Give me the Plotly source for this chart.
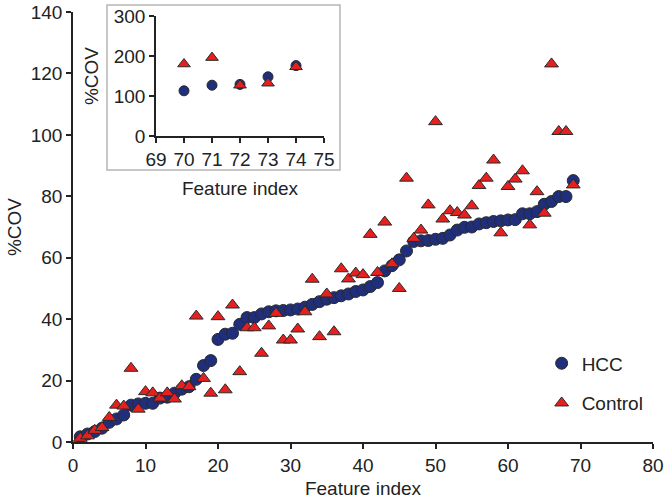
import plotly.graph_objects as go

features = list(range(1, 70))
hcc = [1.7, 2.6, 3.4, 4.5, 6.4, 7.5, 8.8, 12.0, 12.4, 12.6,
       12.6, 14.3, 14.6, 15.9, 17.2, 18.0, 20.4, 24.9, 26.5, 33.4,
       35.1, 35.4, 38.3, 40.5, 40.5, 41.7, 42.4, 42.7, 42.8, 43.0,
       43.3, 43.9, 44.8, 45.7, 46.5, 47.0, 47.6, 48.2, 49.0, 49.5,
       50.6, 51.9, 55.7, 57.4, 59.3, 62.2, 65.3, 65.5, 65.6, 66.0,
       66.3, 67.4, 69.0, 69.9, 70.0, 71.0, 71.4, 71.8, 72.0, 72.3,
       72.4, 74.3, 74.3, 75.0, 77.4, 78.3, 79.9, 79.9, 85.1]
control = [1.2, 2.0, 3.8, 4.7, 8.0, 12.0, 11.7, 24.0, 10.7, 16.4,
           16.0, 14.3, 16.0, 14.0, 18.3, 18.0, 41.0, 20.7, 15.9, 40.8,
           17.0, 44.6, 22.9, 37.2, 37.2, 28.9, 37.8, 41.9, 33.2, 33.2,
           36.8, 42.4, 53.0, 34.3, 48.2, 35.9, 56.4, 53.1, 55.0, 54.5,
           67.6, 55.2, 71.6, 58.0, 50.0, 85.9, 66.3, 69.0, 77.2, 104.3,
           72.6, 75.3, 74.7, 73.9, 76.9, 83.5, 85.9, 91.8, 68.1, 83.2,
           85.6, 88.3, 70.7, 81.5, 74.5, 123.1, 101.1, 101.1, 83.7]

inset_features = [70, 71, 72, 73, 74]
inset_hcc = [113, 127, 129, 148, 176]
inset_control = [180, 196, 127, 132, 173]

NAVY = "#1f2f7c"
RED = "#e5201f"
EDGE = "#2a2a2a"
FONT = "Liberation Sans, Arial, sans-serif"
FS = 19

fig = go.Figure()
fig.add_trace(go.Scatter(x=features, y=hcc, mode="markers", name="HCC",
                         legendgroup="a",
                         marker=dict(symbol="circle", size=12, color=NAVY,
                                     line=dict(color=EDGE, width=1)),
                         cliponaxis=False))
fig.add_trace(go.Scatter(x=features, y=control, mode="markers", name="Control",
                         legendgroup="b",
                         marker=dict(symbol="triangle-up", size=12, color=RED,
                                     line=dict(color=EDGE, width=1)),
                         cliponaxis=False))
fig.add_trace(go.Scatter(x=inset_features, y=inset_hcc, mode="markers",
                         showlegend=False, xaxis="x2", yaxis="y2",
                         marker=dict(symbol="circle", size=10, color=NAVY,
                                     line=dict(color=EDGE, width=1))))
fig.add_trace(go.Scatter(x=inset_features, y=inset_control, mode="markers",
                         showlegend=False, xaxis="x2", yaxis="y2",
                         marker=dict(symbol="triangle-up", size=11, color=RED,
                                     line=dict(color=EDGE, width=1))))

axis_common = dict(showline=True, linecolor="#222", linewidth=1.5,
                   ticks="outside", ticklen=5, tickwidth=1.5, tickcolor="#222",
                   showgrid=False, zeroline=False, automargin=False,
                   tickfont=dict(family=FONT, size=FS, color="#222"))

fig.update_layout(
    width=666, height=503,
    margin=dict(l=73, r=13, t=12, b=61),
    paper_bgcolor="white", plot_bgcolor="white",
    font=dict(family=FONT, color="#222"),
    xaxis=dict(range=[0, 80], dtick=10, domain=[0, 1],
               title=dict(text="Feature index", font=dict(size=FS), standoff=7),
               **axis_common),
    yaxis=dict(range=[0, 140], dtick=20, domain=[0, 1],
               title=dict(text="%COV", font=dict(size=FS), standoff=4),
               **axis_common),
    xaxis2=dict(range=[69, 75], dtick=1, domain=[0.1431, 0.4328], anchor="y2",
                title=dict(text="Feature index", font=dict(size=FS), standoff=13),
                **axis_common),
    yaxis2=dict(range=[0, 300], dtick=100, domain=[0.7116, 0.9907], anchor="x2",
                title=dict(text="%COV", font=dict(size=FS), standoff=10),
                **axis_common),
    legend=dict(x=0.808, y=0.227, xanchor="left", yanchor="top",
                font=dict(family=FONT, size=FS, color="#222"),
                bgcolor="rgba(0,0,0,0)", tracegroupgap=12,
                traceorder="grouped", itemwidth=30),
    shapes=[dict(type="rect", xref="paper", yref="paper",
                 x0=0.0586, x1=0.4603, y0=0.6326, y1=1.0163,
                 line=dict(color="#b5b5b5", width=1.5),
                 fillcolor="white", layer="below")],
)

fig.write_html("out.html", config={"displayModeBar": False},
               post_script="document.body.style.margin='0';")
